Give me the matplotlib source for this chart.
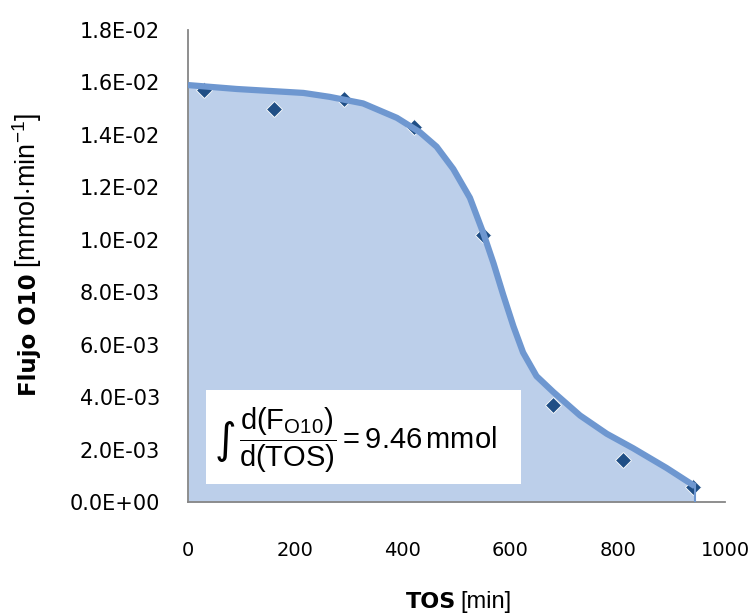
import matplotlib
matplotlib.use("Agg")
from matplotlib import pyplot as plt
from matplotlib.ticker import FuncFormatter
from matplotlib.patches import Rectangle

# measured points (TOS [min], flow [mmol/min])
tos = [30, 160, 290, 420, 550, 680, 810, 940]
flujo = [0.0157, 0.0150, 0.01535, 0.0143, 0.0102, 0.0037, 0.0016, 0.00057]

# fitted curve
fit_tos = [0, 91, 215, 264, 326, 389, 432, 463, 494, 525, 550, 569, 587,
           606, 624, 649, 680, 730, 780, 829, 891, 944]
fit_flujo = [0.0159, 0.01575, 0.0156, 0.01545, 0.0152, 0.01465, 0.0141,
             0.01355, 0.0127, 0.0116, 0.01025, 0.0091, 0.0079, 0.0067,
             0.0057, 0.0048, 0.0042, 0.0033, 0.0026, 0.00205, 0.0013,
             0.0006]

xticks = [0, 200, 400, 600, 800, 1000]
yticks = [0.000, 0.002, 0.004, 0.006, 0.008, 0.010, 0.012, 0.014, 0.016, 0.018]

plt.rcParams['mathtext.fontset'] = 'custom'
plt.rcParams['mathtext.rm'] = 'Liberation Sans'
plt.rcParams['mathtext.it'] = 'Liberation Sans'

W, H = 754, 614
fig = plt.figure(figsize=(W / 100, H / 100), dpi=100)
ax = fig.add_axes([188 / W, 1 - 502 / H, (725 - 188) / W, (502 - 30) / H])

ax.fill_between(fit_tos, fit_flujo, 0, color="#BCCFEA", lw=0, zorder=1)
ax.plot(tos, flujo, ls="none", marker="D", ms=8, color="#1F4E85",
        mec="white", mew=0.6, zorder=2)
ax.plot(fit_tos, fit_flujo, color="#6E97D0", lw=4.5, solid_capstyle="butt",
        solid_joinstyle="round", zorder=3)
ax.plot([fit_tos[-1], fit_tos[-1]], [fit_flujo[-1], 0], color="#6E97D0",
        lw=1.5, zorder=3)

# integral box
ax.add_patch(Rectangle((33, 0.00069), 587, 0.00358, facecolor="white",
                       edgecolor="none", zorder=4))
ax.text(69, 0.00233, "\u222b", fontsize=30, family="DejaVu Sans",
        va="center", ha="center", zorder=5, color="black")
ax.text(95, 0.00235,
        r"$\dfrac{\mathrm{d(F_{O10})}}{\mathrm{d(TOS)}} = 9.46\,\mathrm{mmol}$",
        fontsize=21, va="center", ha="left", zorder=5, color="black")

ax.set_xlim(0, 1000)
ax.set_ylim(0, 0.018)
ax.set_xticks(xticks)
ax.set_yticks(yticks)
ax.yaxis.set_major_formatter(FuncFormatter(lambda v, p: f"{v:.1E}"))
ax.tick_params(length=0, labelsize=14)
ax.tick_params(axis="y", pad=20, labelsize=15)
ax.tick_params(axis="x", pad=28)

for s in ["top", "right"]:
    ax.spines[s].set_visible(False)
for s in ["left", "bottom"]:
    ax.spines[s].set_color("#868686")
    ax.spines[s].set_linewidth(1.3)

# axis titles: bold name + unit in lighter face
fig.text(406 / W, 1 - 608 / H, "TOS", fontsize=16, fontweight="bold",
         family="DejaVu Sans", ha="left", va="baseline")
fig.text(460 / W, 1 - 608 / H, "[min]", fontsize=17,
         family="Liberation Sans", ha="left", va="baseline")
fig.text(36 / W, 1 - 396 / H, "Flujo O10", fontsize=16.5, fontweight="bold",
         family="DejaVu Sans", rotation=90, rotation_mode="anchor",
         ha="left", va="baseline")
fig.text(36 / W, 1 - 268 / H, r"[mmol$\cdot$min$^{-1}$]", fontsize=19.5,
         family="Liberation Sans", rotation=90, rotation_mode="anchor",
         ha="left", va="baseline")

fig.savefig("out.png", dpi=100)
